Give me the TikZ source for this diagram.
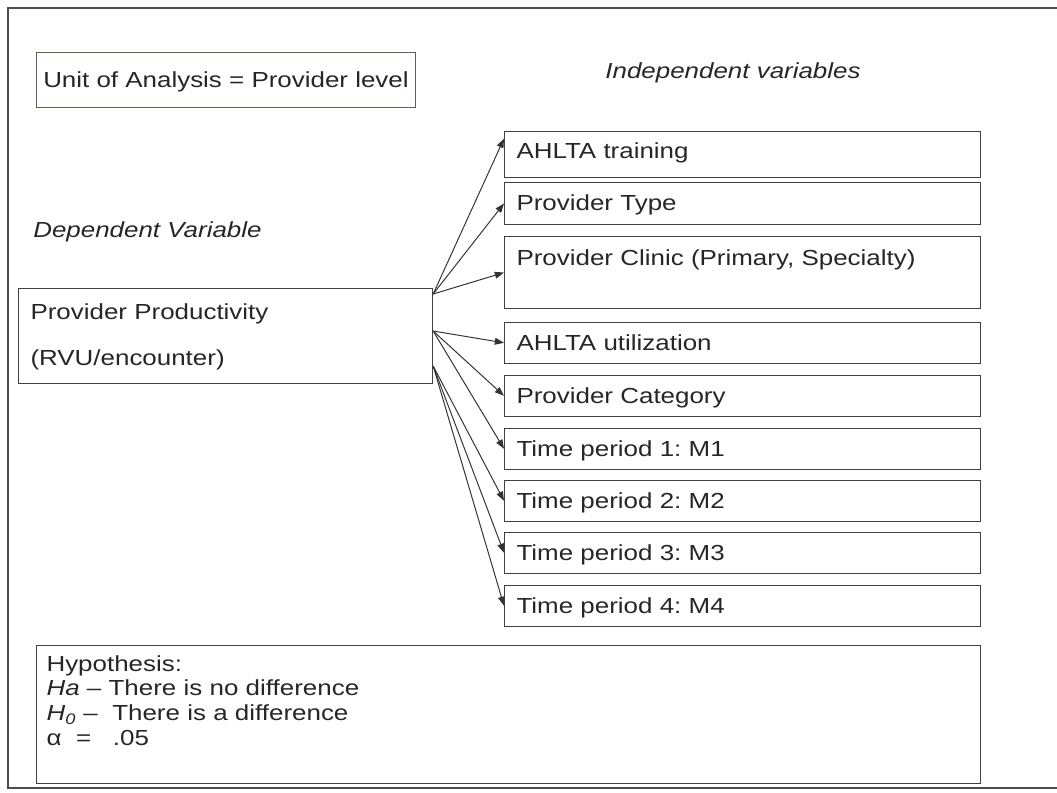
\documentclass[tikz,border=0pt]{standalone}
\usepackage{fontspec}
\setmainfont{Liberation Sans}[FakeStretch=1.19]
\usetikzlibrary{arrows.meta}
\usetikzlibrary{positioning}
\frenchspacing
\definecolor{olivegray}{rgb}{0.33,0.40,0.30}

\begin{document}
\begin{tikzpicture}[x=0.025cm, y=-0.025cm,
    every node/.style={font=\fontsize{15.5}{17.6}\selectfont, text=black!85},
    box/.style={draw=black!75, line width=0.75pt, anchor=north west, inner xsep=0.3cm, inner ysep=0pt, align=left},
    varbox/.style={box, text width=11.3cm, text height=0.6875cm, text depth=0.325cm},
    link/.style={draw=black!80, line width=0.7pt, arrows=-{Triangle[length=2.3mm,width=1.7mm]}}]

            % \draw [help lines] (0,0) grid (1057,792);
            \useasboundingbox (0,0) rectangle (1057,792);

            % frame
            \draw[black!70, line width=0.8pt] (1057,8) -- (8,8) -- (8,788) -- (1057,788);

            \path   (36,52) node (ua) [draw=olivegray, line width=0.6pt, anchor=north west, inner sep=0pt, minimum width=9.475cm, text height=0.8875cm, text depth=0.4875cm] {Unit of Analysis = Provider level}
                    (733,73) node (iv) {\itshape Independent variables}
                    (33,232) node (dv) [anchor=west, inner sep=0pt] {\itshape Dependent Variable}

                    (18,288) node (pp) [box, text width=9.75cm, text height=0.7625cm, text depth=1.6125cm, font=\fontsize{15.5}{32.7}\selectfont] {Provider Productivity\\(RVU/encounter)}

                    (504,131) node (at) [varbox, text height=0.6625cm, text depth=0.4875cm] {AHLTA training}
                    (504,182) node (pt) [varbox, text depth=0.36cm] {Provider Type}
                    (504,236) node (pc) [varbox, text height=0.7125cm, text depth=1.0875cm] {Provider Clinic (Primary, Specialty)}
                    (504,322) node (au) [varbox] {AHLTA utilization}
                    (504,375) node (pk) [varbox] {Provider Category}
                    (504,428) node (ta) [varbox] {Time period 1: M1}
                    (504,480) node (tb) [varbox] {Time period 2: M2}
                    (504,532) node (tc) [varbox] {Time period 3: M3}
                    (504,585) node (td) [varbox] {Time period 4: M4}

                    (36,645) node (hy) [box, inner xsep=0.25cm, text width=23.1cm, text height=0.6375cm, text depth=2.8125cm]
                    {Hypothesis:\\\textit{Ha} – There is no difference\\\textit{H\textsubscript{0}} –\ \ There is a difference\\α\ \ =\ \ \ .05};

            \coordinate (outa) at ([yshift=-0.15cm]pp.north east);
            \coordinate (outb) at ([yshift=-1.075cm]pp.north east);
            \coordinate (outc) at ([yshift=-1.95cm]pp.north east);

            \draw[link] (outa) -- ([yshift=0.4cm]at.west);
            \draw[link] (outa) -- (node cs: name=pt, anchor=west);
            \draw[link] (outa) -- (node cs: name=pc, anchor=west);

            \draw[link] (outb) -- (node cs: name=au, anchor=west);
            \draw[link] (outb) -- (node cs: name=pk, anchor=west);
            \draw[link] (outb) -- (node cs: name=ta, anchor=west);

            \draw[link] (outc) -- (node cs: name=tb, anchor=west);
            \draw[link] (outc) -- (node cs: name=tc, anchor=west);
            \draw[link] (outc) -- (node cs: name=td, anchor=west);
        \end{tikzpicture}
\end{document}
